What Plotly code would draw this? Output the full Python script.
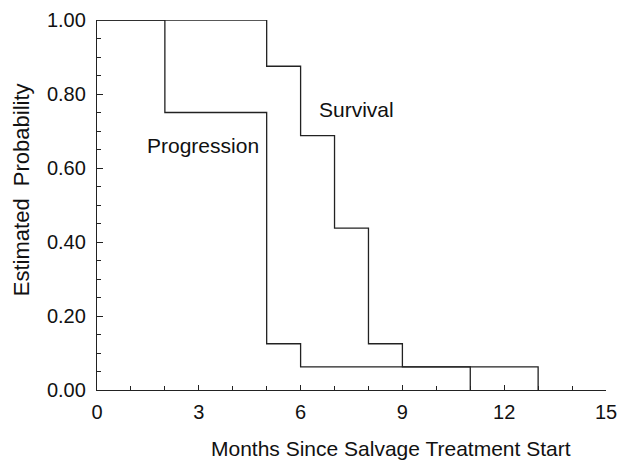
import plotly.graph_objects as go

# Kaplan-Meier step data (months, probability)
surv_t = [0, 5, 6, 7, 8, 9, 13, 13]
surv_p = [1.0, 0.875, 0.6875, 0.4375, 0.125, 0.0625, 0.0625, 0.0]
prog_t = [0, 2, 5, 6, 11, 11]
prog_p = [1.0, 0.75, 0.125, 0.0625, 0.0625, 0.0]

x_ticks = [0, 3, 6, 9, 12, 15]
y_ticks = [0.0, 0.2, 0.4, 0.6, 0.8, 1.0]

line_col = "#222222"
txt_col = "#111111"
font = "Liberation Sans, Arial, Helvetica, sans-serif"

fig = go.Figure()
fig.add_trace(go.Scatter(x=surv_t, y=surv_p, mode="lines", line_shape="hv",
                         line=dict(color=line_col, width=1.3), cliponaxis=False,
                         showlegend=False, name="Survival"))
fig.add_trace(go.Scatter(x=prog_t, y=prog_p, mode="lines", line_shape="hv",
                         line=dict(color=line_col, width=1.3), cliponaxis=False,
                         showlegend=False, name="Progression"))

fig.add_annotation(x=7.66, y=0.757, text="Survival", showarrow=False,
                   font=dict(size=21, color=txt_col, family=font))
fig.add_annotation(x=3.12, y=0.662, text="Progression", showarrow=False,
                   font=dict(size=21, color=txt_col, family=font))

# axis titles as annotations for exact placement
fig.add_annotation(xref="paper", yref="paper", x=0.578, y=0, yshift=-58,
                   xanchor="center", yanchor="middle", showarrow=False,
                   text="Months Since Salvage Treatment Start",
                   font=dict(size=21, color=txt_col, family=font))
fig.add_annotation(xref="paper", yref="paper", x=0, xshift=-76, y=0.54,
                   xanchor="center", yanchor="middle", showarrow=False,
                   textangle=-90, text="Estimated&nbsp;&nbsp;Probability",
                   font=dict(size=22, color=txt_col, family=font))

fig.update_layout(
    width=620, height=462,
    margin=dict(l=97, r=14, t=20, b=72),
    paper_bgcolor="white", plot_bgcolor="white",
    font=dict(family=font, size=20, color=txt_col),
    hovermode=False,
    xaxis=dict(range=[0, 15], tickvals=x_ticks, ticks="inside", ticklen=5,
               tickcolor=line_col, showgrid=False, zeroline=False,
               showline=True, linecolor=line_col, linewidth=1.3,
               automargin=False, ticklabelstandoff=4,
               minor=dict(ticks="inside", dtick=1, ticklen=4, tickcolor=line_col)),
    yaxis=dict(range=[0, 1], tickvals=y_ticks, tickformat=".2f", ticks="inside",
               ticklen=6, tickcolor=line_col, showgrid=False, zeroline=False,
               showline=True, linecolor=line_col, linewidth=1.3,
               automargin=False, ticklabelstandoff=6,
               minor=dict(ticks="inside", dtick=0.05, ticklen=4, tickcolor=line_col)),
)

# remove the default page margin so the 620x462 figure fills the window
fig.write_html("out.html", config={"displayModeBar": False},
               post_script="document.body.style.margin='0';"
                           "document.documentElement.style.overflow='hidden';")
